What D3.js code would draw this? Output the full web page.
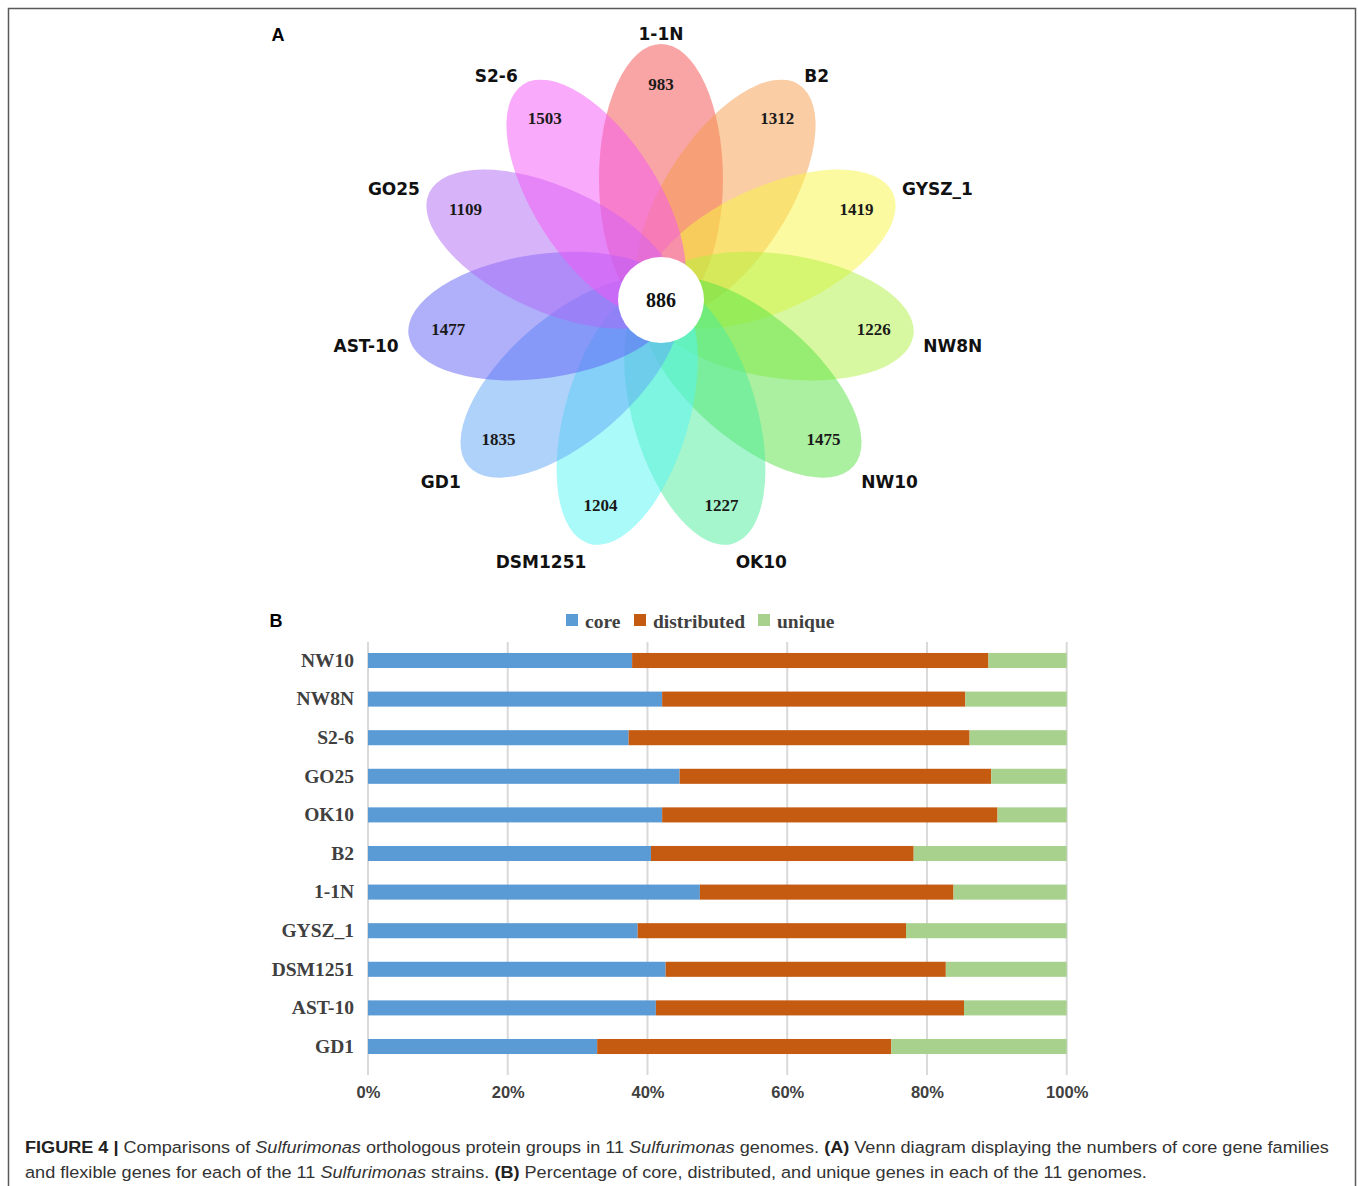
<!DOCTYPE html>
<html>
<head>
<meta charset="utf-8">
<script src="https://cdn.jsdelivr.net/npm/d3@7/dist/d3.min.js"></script>
<style>
  html, body { margin: 0; padding: 0; background: #fff; }
  svg { display: block; }
</style>
</head>
<body>
<svg id="fig" width="1358" height="1186"></svg>
<script>
// ---- Panel A: flower (Venn) diagram ----
const strains = ["1-1N", "B2", "GYSZ_1", "NW8N", "NW10", "OK10", "DSM1251", "GD1", "AST-10", "GO25", "S2-6"];
const uniqueCounts = [983, 1312, 1419, 1226, 1475, 1227, 1204, 1835, 1477, 1109, 1503];
const coreCount = 886;
const petalColors = ["#f34b4b", "#f59b4b", "#f9f541", "#b0f141", "#55e141", "#4beb9b",
                     "#55f5f5", "#5fa5f5", "#5f5ff5", "#af69f5", "#f555f5"];

// ---- Panel B: stacked percentage bars ----
const barStrains = ["NW10", "NW8N", "S2-6", "GO25", "OK10", "B2", "1-1N", "GYSZ_1", "DSM1251", "AST-10", "GD1"];
const corePct = [37.8, 42.1, 37.3, 44.6, 42.1, 40.5, 47.5, 38.6, 42.6, 41.2, 32.8];
const distributedPct = [51.0, 43.4, 48.8, 44.6, 48.0, 37.6, 36.3, 38.4, 40.1, 44.1, 42.1];
const uniquePct = [11.2, 14.5, 13.9, 10.8, 9.9, 21.9, 16.2, 23.0, 17.3, 14.7, 25.1];
const seriesNames = ["core", "distributed", "unique"];
const seriesColors = ["#5b9bd5", "#c55a11", "#a9d18e"];
const xTicks = [0, 20, 40, 60, 80, 100];

const svg = d3.select("#fig");

// outer frame
svg.append("rect")
  .attr("x", 8.5).attr("y", 8.5).attr("width", 1347).attr("height", 1220)
  .attr("fill", "none").attr("stroke", "#5a5a5a").attr("stroke-width", 1.5);

// panel letters
svg.append("text").attr("x", 278).attr("y", 41).attr("text-anchor", "middle")
  .attr("font-family", "Liberation Sans, Arial, sans-serif").attr("font-weight", "bold")
  .attr("font-size", 18).text("A");
svg.append("text").attr("x", 276).attr("y", 627).attr("text-anchor", "middle")
  .attr("font-family", "Liberation Sans, Arial, sans-serif").attr("font-weight", "bold")
  .attr("font-size", 18).text("B");

// ---------- flower ----------
const cx = 661, cy = 299;
const petalDist = 120, petalA = 135, petalB = 62;
const angleScale = d3.scaleLinear().domain([0, strains.length]).range([-90, 270]);

const flower = svg.append("g");
const petals = strains.map((s, i) => ({
  name: s, count: uniqueCounts[i], color: petalColors[i], angle: angleScale(i)
}));

flower.selectAll("ellipse.petal").data(petals).join("ellipse")
  .attr("class", "petal")
  .attr("transform", d => {
    const r = d.angle * Math.PI / 180;
    return `translate(${cx + petalDist * Math.cos(r)},${cy + petalDist * Math.sin(r)}) rotate(${d.angle})`;
  })
  .attr("rx", petalA).attr("ry", petalB)
  .attr("fill", d => d.color).attr("fill-opacity", 0.5);

flower.append("circle").attr("cx", cx).attr("cy", cy + 1).attr("r", 43).attr("fill", "#fff");
flower.append("text").attr("x", cx).attr("y", cy + 1).attr("text-anchor", "middle")
  .attr("dominant-baseline", "central")
  .attr("font-family", "Liberation Serif, Times New Roman, serif").attr("font-weight", "bold")
  .attr("font-size", 20).attr("fill", "#111").text(coreCount);

// unique counts inside petals
flower.selectAll("text.count").data(petals).join("text")
  .attr("class", "count")
  .attr("x", d => cx + 215 * Math.cos(d.angle * Math.PI / 180))
  .attr("y", d => cy + 215 * Math.sin(d.angle * Math.PI / 180))
  .attr("text-anchor", "middle").attr("dominant-baseline", "central")
  .attr("font-family", "Liberation Serif, Times New Roman, serif").attr("font-weight", "bold")
  .attr("font-size", 17).attr("fill", "#1a1a1a")
  .text(d => d.count);

// strain names around the flower
flower.selectAll("text.name").data(petals).join("text")
  .attr("class", "name")
  .attr("x", d => cx + 265 * Math.cos(d.angle * Math.PI / 180))
  .attr("y", d => {
    const s = Math.sin(d.angle * Math.PI / 180);
    return cy + 265 * s + (s > 0 ? 9 : 0);
  })
  .attr("text-anchor", d => {
    const c = Math.cos(d.angle * Math.PI / 180);
    return c > 0.1 ? "start" : (c < -0.1 ? "end" : "middle");
  })
  .attr("dominant-baseline", "central")
  .attr("font-family", "DejaVu Sans, Verdana, sans-serif").attr("font-weight", "bold")
  .attr("font-size", 17).attr("fill", "#111")
  .text(d => d.name);

// ---------- stacked bars ----------
const x = d3.scaleLinear().domain([0, 100]).range([368, 1066.7]);
const y = d3.scaleBand().domain(barStrains).range([641.2, 1065.8])
  .paddingInner(0.61).paddingOuter(0.305);

const rows = barStrains.map((s, i) => ({
  strain: s, core: corePct[i], distributed: distributedPct[i], unique: uniquePct[i]
}));
const stacked = d3.stack().keys(seriesNames)(rows);

const bars = svg.append("g");
// vertical gridlines
bars.selectAll("line.grid").data(xTicks).join("line")
  .attr("class", "grid")
  .attr("x1", d => x(d)).attr("x2", d => x(d))
  .attr("y1", 642).attr("y2", 1075)
  .attr("stroke", "#d9d9d9").attr("stroke-width", 2);

bars.selectAll("g.series").data(stacked).join("g")
  .attr("class", "series")
  .attr("fill", (d, i) => seriesColors[i])
  .selectAll("rect").data(d => d).join("rect")
    .attr("x", d => x(d[0]))
    .attr("width", d => x(d[1]) - x(d[0]))
    .attr("y", d => y(d.data.strain))
    .attr("height", y.bandwidth());

// category axis (labels only)
const yAxis = d3.axisLeft(y).tickSize(0).tickPadding(14);
const yG = bars.append("g").attr("transform", `translate(${x(0)},0)`).call(yAxis);
yG.select(".domain").remove();
yG.selectAll("text")
  .attr("font-family", "Liberation Serif, Times New Roman, serif").attr("font-weight", "bold")
  .attr("font-size", 19.5).attr("fill", "#404040");

// percentage axis
const xAxis = d3.axisBottom(x).tickValues(xTicks).tickFormat(d => d + "%").tickSize(0).tickPadding(0);
const xG = bars.append("g").attr("transform", "translate(0,1092)").call(xAxis);
xG.select(".domain").remove();
xG.selectAll("text")
  .attr("dy", "0.35em").attr("y", 0)
  .attr("font-family", "Liberation Sans, Arial, sans-serif").attr("font-weight", "bold")
  .attr("font-size", 16.5).attr("fill", "#404040");

// legend
const legendX = [566, 634, 758];
const legend = svg.append("g");
seriesNames.forEach((n, i) => {
  legend.append("rect").attr("x", legendX[i]).attr("y", 614).attr("width", 12).attr("height", 12)
    .attr("fill", seriesColors[i]);
  legend.append("text").attr("x", legendX[i] + 19).attr("y", 621)
    .attr("dominant-baseline", "central")
    .attr("font-family", "Liberation Serif, Times New Roman, serif").attr("font-weight", "bold")
    .attr("font-size", 19.5).attr("fill", "#404040").text(n);
});

// ---------- caption ----------
const capFont = "Liberation Sans, Arial, sans-serif";
function captionLine(yPos, parts, targetWidth) {
  const t = svg.append("text").attr("x", 0).attr("y", 0)
    .attr("font-family", capFont).attr("font-size", 17).attr("fill", "#333");
  parts.forEach(p => {
    const ts = t.append("tspan").text(p.t);
    if (p.b) ts.attr("font-weight", "bold").attr("fill", "#222");
    if (p.i) ts.attr("font-style", "italic");
  });
  const w = t.node().getBBox().width;
  t.attr("transform", `translate(25,${yPos}) scale(${targetWidth / w},1)`);
}
captionLine(1153, [
  { t: "FIGURE 4 | ", b: true },
  { t: "Comparisons of " },
  { t: "Sulfurimonas", i: true },
  { t: " orthologous protein groups in 11 " },
  { t: "Sulfurimonas", i: true },
  { t: " genomes. " },
  { t: "(A)", b: true },
  { t: " Venn diagram displaying the numbers of core gene families" }
], 1305);
captionLine(1178, [
  { t: "and flexible genes for each of the 11 " },
  { t: "Sulfurimonas", i: true },
  { t: " strains. " },
  { t: "(B)", b: true },
  { t: " Percentage of core, distributed, and unique genes in each of the 11 genomes." }
], 1123);
</script>
</body>
</html>
